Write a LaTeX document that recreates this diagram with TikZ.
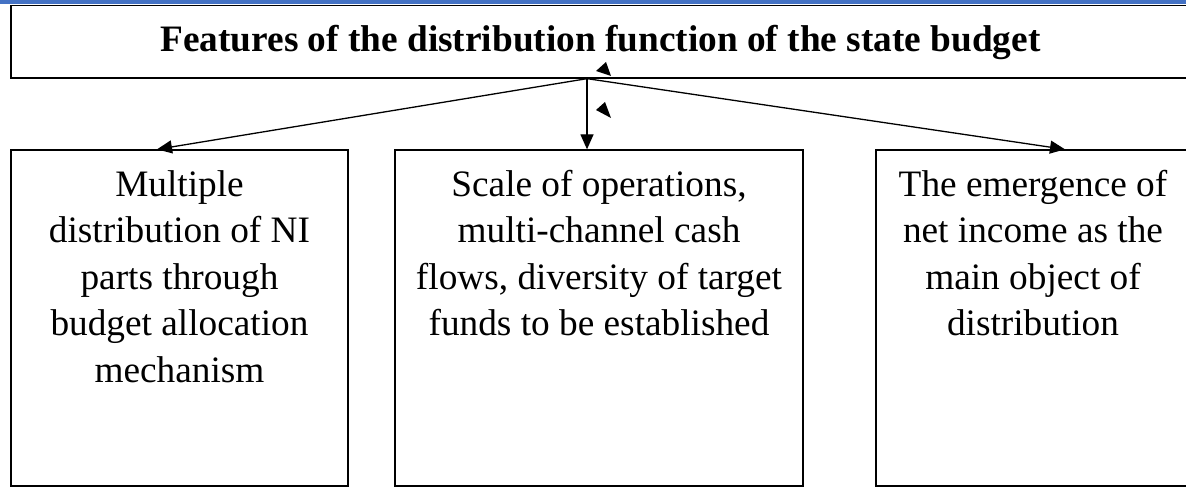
\documentclass[tikz,border=0pt]{standalone}
\usepackage{fontspec}
\setmainfont{Liberation Serif}
\usetikzlibrary{arrows.meta,calc}
\definecolor{topblue}{RGB}{68,114,196}
\tikzset{
  boxstyle/.style={draw=black, line width=1.3pt, rectangle, inner sep=0pt},
  bodytext/.style={align=center, inner sep=0pt, anchor=base, font=\fontsize{37.3}{46.5}\selectfont},
  arr/.style={line width=1.3pt, -{Triangle[length=15pt,width=13pt]}},
}
\begin{document}
\begin{tikzpicture}[x=1pt,y=1pt]
\useasboundingbox (0,0) rectangle (1186,491);
\fill[topblue] (0,486.5) rectangle (1186,491);
% title box
\node[boxstyle, minimum width=1179pt, minimum height=72.5pt] (title) at (600.5,449.25) {};
\node[inner sep=0pt, anchor=base, font=\fontsize{37.3}{44}\selectfont\bfseries] (titletext) at (600.5,439) {Features of the distribution function of the state budget};
% lower boxes
\node[boxstyle, minimum width=337pt, minimum height=336pt] (L) at (179.5,173) {};
\node[boxstyle, minimum width=408pt, minimum height=336pt] (M) at (599,173) {};
\node[boxstyle, minimum width=314pt, minimum height=336pt] (R) at (1033,173) {};
\node[bodytext] (Lt) at (179.5,109) {Multiple\\distribution of NI\\parts through\\budget allocation\\mechanism};
\node[bodytext] (Mt) at (599,155.5) {Scale of operations,\\multi-channel cash\\flows, diversity of target\\funds to be established};
\node[bodytext] (Rt) at (1033,155.5) {The emergence of\\net income as the\\main object of\\distribution};
% connectors
\coordinate (hub) at ($(title.south)+(-13.5,0)$);
\draw[arr] (hub) -- ($(L.north)+(-22.5,0)$);
\draw[arr] (hub) -- ($(M.north)+(-12,0)$);
\draw[arr] (hub) -- ($(R.north)+(32,0)$);
% stray arrowheads
\fill (596,420) -- (606,429) -- (611,415) -- cycle;
\fill (596,381) -- (605,389) -- (611,373) -- cycle;
\end{tikzpicture}
\end{document}
